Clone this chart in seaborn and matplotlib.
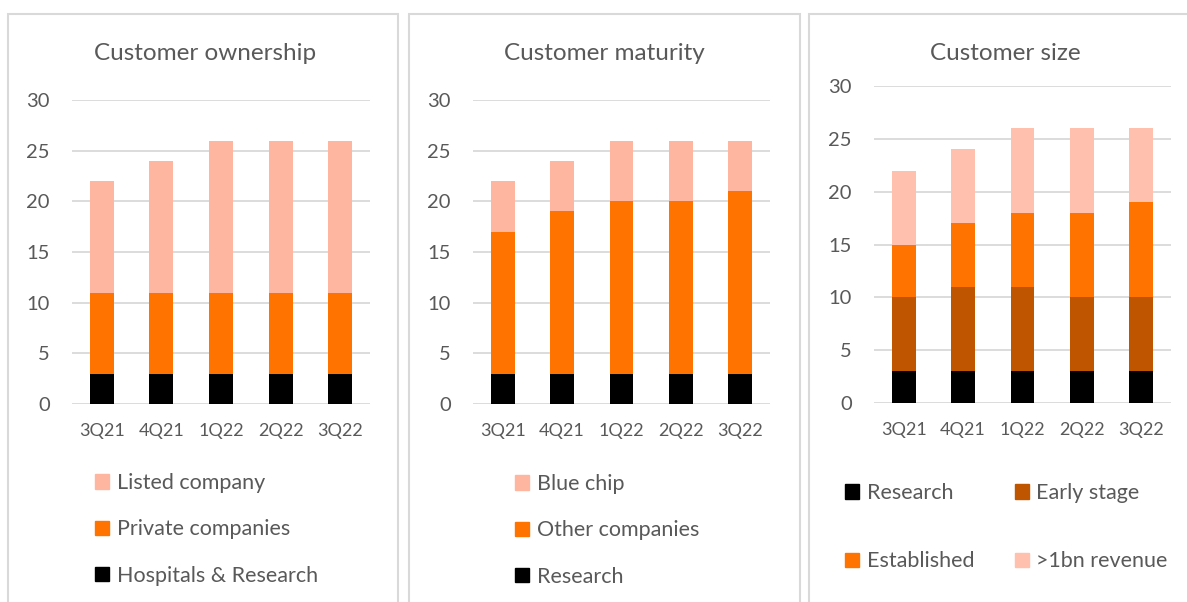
import matplotlib
matplotlib.use("Agg")
import matplotlib.pyplot as plt
from matplotlib.patches import Patch, Rectangle
import numpy as np
import pandas as pd
import seaborn as sns

quarters = ["3Q21", "4Q21", "1Q22", "2Q22", "3Q22"]

# Customer ownership
own_hospitals = [3, 3, 3, 3, 3]
own_private = [8, 8, 8, 8, 8]
own_listed = [11, 13, 15, 15, 15]

# Customer maturity
mat_research = [3, 3, 3, 3, 3]
mat_other = [14, 16, 17, 17, 18]
mat_bluechip = [5, 5, 6, 6, 5]

# Customer size
size_research = [3, 3, 3, 3, 3]
size_early = [7, 8, 8, 7, 7]
size_established = [5, 6, 7, 8, 9]
size_1bn = [7, 7, 8, 8, 7]

BLACK = "#000000"
ORANGE = "#FF7300"
DARK_ORANGE = "#C05500"
SALMON = "#FFB6A0"
SALMON2 = "#FFC0AD"
GREY_TXT = "#595959"
GRID = "#D9D9D9"

sns.set_theme(style="white")
plt.rcParams["font.family"] = ["Lato", "DejaVu Sans"]

W, H = 1187, 602
fig = plt.figure(figsize=(W / 100, H / 100), dpi=100)


def px_axes(x0, x1, y_top, y_bot):
    return fig.add_axes([x0 / W, 1 - y_bot / H, (x1 - x0) / W, (y_bot - y_top) / H])


def stacked(ax, series, colors):
    # draw cumulative totals from the top down so lower layers cover upper ones
    cum = np.cumsum(np.array(series), axis=0)
    for vals, col in reversed(list(zip(cum, colors))):
        df = pd.DataFrame({"q": quarters, "v": vals})
        sns.barplot(data=df, x="q", y="v", color=col, width=0.4,
                    saturation=1, ax=ax, zorder=3, linewidth=0)
    ax.set_xlim(-0.5, 4.5)
    ax.set_ylim(0, 30)
    ax.set_yticks(range(0, 31, 5))
    ax.yaxis.grid(True, color=GRID, linewidth=1.3, zorder=0)
    ax.set_axisbelow(True)
    for s in ax.spines.values():
        s.set_visible(False)
    ax.tick_params(axis="y", length=0, pad=16, labelsize=14.5, labelcolor=GREY_TXT)
    ax.tick_params(axis="x", length=0, pad=14, labelsize=13, labelcolor=GREY_TXT)
    ax.set_xlabel("")
    ax.set_ylabel("")


# panel borders
for x0, x1 in [(8, 398), (409, 800), (809, 1200)]:
    fig.patches.append(Rectangle((x0 / W, -0.1), (x1 - x0) / W, 1.1 - 14 / H,
                                 transform=fig.transFigure, fill=False,
                                 edgecolor="#D9D9D9", linewidth=1.5))

ax1 = px_axes(72, 370, 100, 404)
stacked(ax1, [own_hospitals, own_private, own_listed], [BLACK, ORANGE, SALMON])
ax2 = px_axes(473, 770, 100, 404)
stacked(ax2, [mat_research, mat_other, mat_bluechip], [BLACK, ORANGE, SALMON])
ax3 = px_axes(874, 1171, 86, 403)
stacked(ax3, [size_research, size_early, size_established, size_1bn],
        [BLACK, DARK_ORANGE, ORANGE, SALMON2])

for cx, title in [(205, "Customer ownership"), (604, "Customer maturity"),
                  (1005, "Customer size")]:
    fig.text(cx / W, 1 - 53 / H, title, ha="center", va="center",
             fontsize=17.5, color=GREY_TXT)

leg_kw = dict(frameon=False, fontsize=15.5, labelcolor=GREY_TXT, handlelength=0.65,
              handleheight=0.65, handletextpad=0.35, borderpad=0, borderaxespad=0)

fig.legend(handles=[Patch(color=SALMON, label="Listed company"),
                    Patch(color=ORANGE, label="Private companies"),
                    Patch(color=BLACK, label="Hospitals & Research")],
           loc="upper left", bbox_to_anchor=(95 / W, 1 - 473 / H),
           labelspacing=1.22, **leg_kw)
fig.legend(handles=[Patch(color=SALMON, label="Blue chip"),
                    Patch(color=ORANGE, label="Other companies"),
                    Patch(color=BLACK, label="Research")],
           loc="upper left", bbox_to_anchor=(515 / W, 1 - 474 / H),
           labelspacing=1.22, **leg_kw)
fig.legend(handles=[Patch(color=BLACK, label="Research"),
                    Patch(color=ORANGE, label="Established"),
                    Patch(color=DARK_ORANGE, label="Early stage"),
                    Patch(color=SALMON2, label=">1bn revenue")],
           loc="upper left", bbox_to_anchor=(845 / W, 1 - 483 / H), ncol=2,
           labelspacing=2.25, columnspacing=1.9, **leg_kw)

fig.savefig("out.png", dpi=100, facecolor="white")
